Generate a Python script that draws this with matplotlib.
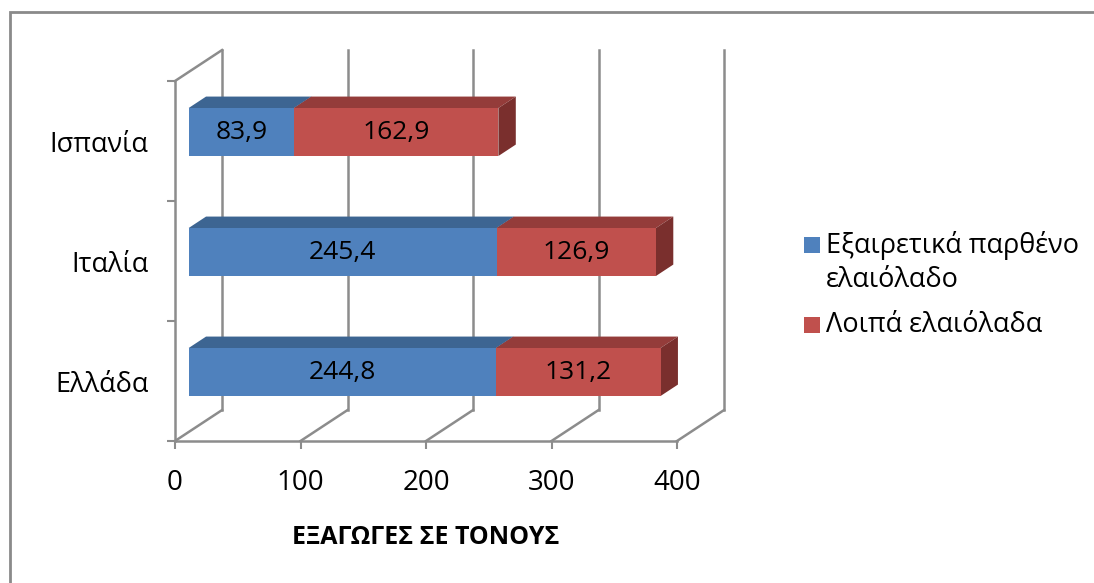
import numpy as np
import matplotlib
matplotlib.use('Agg')
import matplotlib.pyplot as plt
from matplotlib.patches import Polygon, Rectangle

plt.rcParams['font.family'] = ['Open Sans', 'DejaVu Sans']

# data
countries = ['Ελλάδα', 'Ιταλία', 'Ισπανία']
extra_virgin = [244.8, 245.4, 83.9]
other_oils = [131.2, 126.9, 162.9]
series_names = ['Εξαιρετικά παρθένο\nελαιόλαδο', 'Λοιπά ελαιόλαδα']
x_ticks = [0, 100, 200, 300, 400]
x_label = 'ΕΞΑΓΩΓΕΣ ΣΕ ΤΟΝΟΥΣ'

# colours: front, top, side
blue = ('#4f81bd', '#3d6592', '#345681')
red = ('#c0504d', '#943c3a', '#7a2f2d')
grid_col = '#8c8c8c'

# fake 3d: depth offset of the back wall in data units
DX, DY = 37.5, 0.258
bar_front = 0.29     # depth where bar front face sits
bar_depth = 0.37     # bar thickness as part of the wall depth
bar_h = 0.40

W, H = 1094, 583
fig = plt.figure(figsize=(W / 100, H / 100), dpi=100)
ax = fig.add_axes([175 / W, 1 - 441 / H, (677 - 175) / W, (441 - 81) / H])
ax.set_xlim(0, 400)
ax.set_ylim(-0.5, 2.5)
for s in ax.spines.values():
    s.set_visible(False)

# outer frame (only left and top edges fall inside the picture)
fig.patches.append(Rectangle((10 / W, -0.1), 1.2, 1 - 12 / H + 0.1, transform=fig.transFigure,
                             fill=False, edgecolor='#8a8a8a', linewidth=2))

y0, y1 = -0.5, 2.5
# back wall gridlines + floor diagonals
for xv in x_ticks:
    ax.plot([xv + DX, xv + DX], [y0 + DY, y1 + DY], color=grid_col, lw=1.8, clip_on=False, zorder=1)
    ax.plot([xv, xv + DX], [y0, y0 + DY], color=grid_col, lw=1.8, clip_on=False, zorder=1)
# front axes and left wall top edge
ax.plot([0, 400], [y0, y0], color=grid_col, lw=1.8, clip_on=False, zorder=1)
ax.plot([0, 0], [y0, y1], color=grid_col, lw=1.8, clip_on=False, zorder=1)
ax.plot([0, DX], [y1, y1 + DY], color=grid_col, lw=1.8, clip_on=False, zorder=1)

ypos = np.arange(len(countries))


def draw_segment(x0, x1, yc, cols):
    fx, fy = bar_front * DX, bar_front * DY
    bx, by = bar_depth * DX, bar_depth * DY
    xa, xb = x0 + fx, x1 + fx
    ya, yb = yc - bar_h / 2 + fy, yc + bar_h / 2 + fy
    top = [(xa, yb), (xb, yb), (xb + bx, yb + by), (xa + bx, yb + by)]
    side = [(xb, ya), (xb, yb), (xb + bx, yb + by), (xb + bx, ya + by)]
    front = [(xa, ya), (xb, ya), (xb, yb), (xa, yb)]
    for pts, c in ((top, cols[1]), (side, cols[2]), (front, cols[0])):
        ax.add_patch(Polygon(pts, closed=True, facecolor=c, edgecolor='none', zorder=3, clip_on=False))
    return (xa + xb) / 2, (ya + yb) / 2


for i in ypos:
    cx, cy = draw_segment(0, extra_virgin[i], i, blue)
    ax.text(cx, cy, f'{extra_virgin[i]:.1f}'.replace('.', ','), ha='center', va='center',
            fontsize=19, color='black', zorder=5)
    cx, cy = draw_segment(extra_virgin[i], extra_virgin[i] + other_oils[i], i, red)
    ax.text(cx, cy, f'{other_oils[i]:.1f}'.replace('.', ','), ha='center', va='center',
            fontsize=19, color='black', zorder=5)

# ticks
ax.set_xticks(x_ticks)
ax.set_xticklabels([str(v) for v in x_ticks], fontsize=20)
ax.tick_params(axis='x', length=6, width=1.5, color=grid_col, pad=14)
ax.set_yticks(ypos)
ax.set_yticklabels(countries, fontsize=19.5)
ax.tick_params(axis='y', length=0, pad=19)
ax.set_yticks([-0.5, 0.5, 1.5, 2.5], minor=True)
ax.tick_params(axis='y', which='minor', length=6, width=1.5, color=grid_col)
ax.set_xlabel(x_label, fontsize=18, fontweight='bold', labelpad=20)

# legend, drawn by hand so the square lines up with the first text line
leg_x, leg_y = 804 / W, 245 / H
row_gap = [80 / H, 0]
line_h = 35 / H
sq_w, sq_h = 16 / W, 16 / H
ty = 1 - leg_y
for name, col, gap in zip(series_names, (blue[0], red[0]), row_gap):
    fig.patches.append(Rectangle((leg_x, ty - sq_h / 2), sq_w, sq_h, transform=fig.transFigure,
                                 facecolor=col, edgecolor='none'))
    for k, line in enumerate(name.split('\n')):
        fig.text(leg_x + 22 / W, ty - k * line_h, line, ha='left', va='center', fontsize=19.5)
    ty -= gap

fig.savefig('out.png', dpi=100)
